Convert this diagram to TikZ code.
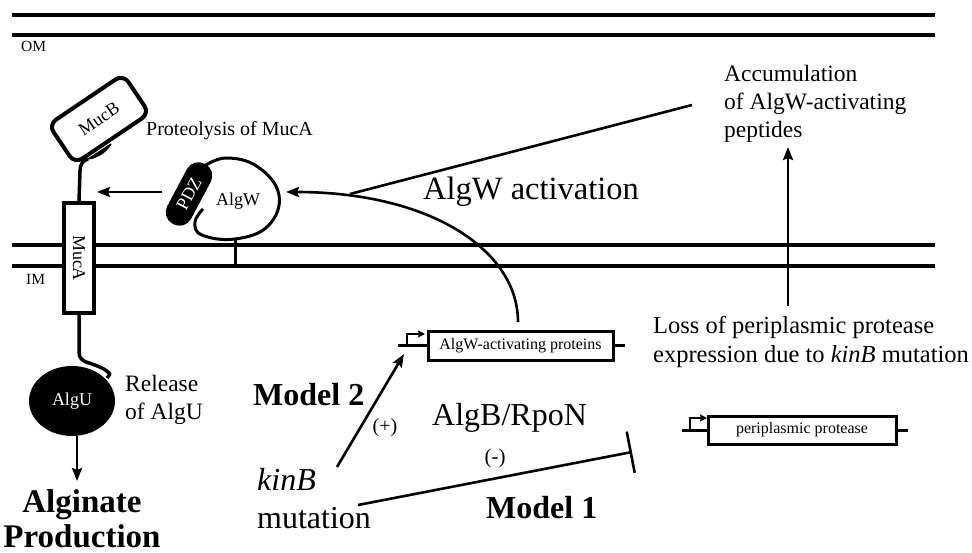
\documentclass[tikz,border=0pt]{standalone}
\usepackage{fontspec}
\setmainfont{Liberation Serif}
\usetikzlibrary{arrows.meta,shapes.geometric}
\newcommand\fsz[2]{\fontsize{#1pt}{#2pt}\selectfont}
\begin{document}
\begin{tikzpicture}[x=1pt,y=-1pt,
  mem/.style={line width=4.5pt},
  conn/.style={line width=2.6pt},
  arr/.style={conn,-{Stealth[length=13pt,width=10pt,inset=2pt]}},
  prom/.style={line width=2.4pt,-{Stealth[length=7pt,width=7pt,inset=1pt]}},
  genebox/.style={draw,line width=3pt,minimum height=28pt,inner sep=0pt,font=\fsz{16}{19}},
  lbl/.style={inner sep=0pt},
  prot/.style={font=\fsz{18}{22},inner sep=0pt}]
\useasboundingbox (0,0) rectangle (972,553);
% membranes
\draw[mem] (12,15) -- (935,15);
\draw[mem] (12,35) -- (935,35);
\draw[mem] (12,245) -- (935,245);
\draw[mem] (12,266) -- (935,266);
\node[lbl,anchor=base west,font=\fsz{15.5}{18}] (om) at (21,52) {OM};
\node[lbl,anchor=base west,font=\fsz{15.5}{18}] (im) at (26,285) {IM};
% MucA
\node[prot,draw,fill=white,line width=3.5pt,minimum width=110pt,minimum height=30pt,rotate=-90] (muca) at (79,258) {MucA};
% MucB
\node[prot,draw,line width=4pt,rounded corners=9pt,minimum width=90pt,minimum height=47pt,rotate=34] (mucb) at (99,119) {MucB};
\coordinate (lensA) at (88,159);
\coordinate (lensB) at (111,144);
\draw[line width=3.5pt] (muca.west) -- (80,171) .. controls (80,164) and (83,160.5) .. (lensA);
\filldraw[line width=1.2pt,line join=round] (lensA) .. controls (95,158.5) and (106,153) .. (lensB) -- cycle;
% AlgW
\draw[line width=3pt] plot[smooth,tension=0.7] coordinates {(203,167) (226,158) (258,167) (279,195) (268,226) (235,239) (202,235) (195,222) (203,209)};
\node[prot,fill=black,text=white,rounded corners=13pt,minimum width=68pt,minimum height=27pt,rotate=62] (pdz) at (189,194) {PDZ};
\node[prot] (algw) at (238,201) {AlgW};
\coordinate (stemtop) at (235,239);
\coordinate (stembot) at (235,266);
\draw[line width=3pt] (stemtop) -- (stembot);
\coordinate (algwR) at (286,192);
% proteolysis
\node[lbl,anchor=base west,font=\fsz{20}{24}] (proteo) at (146,136) {Proteolysis of MucA};
\coordinate (pstart) at (162,192);
\coordinate (pend) at (97,192);
\draw[arr] (pstart) -- (pend);
% AlgU
\node[ellipse,fill=black,text=white,font=\fsz{18}{22},inner sep=0pt,minimum width=86pt,minimum height=70pt] (algu) at (72,401) {AlgU};
\draw[line width=3.5pt,line join=round] (muca.east) -- (79,352) .. controls (79,358) and (82,361) .. (89,363) .. controls (98,366) and (106,369) .. (110,374) -- (107,378);
\node[lbl,anchor=north west,align=left,font=\fsz{23.5}{28}] (rel) at (125,375) {Release\\of AlgU};
\coordinate (alguS) at (77,436);
\coordinate (algP) at (77,481);
\draw[arr] (alguS) -- (algP);
\node[lbl,anchor=north,align=center,font=\bfseries\fsz{33}{35}] (alg) at (82,489) {Alginate\\Production};
% AlgW activation
\node[lbl,anchor=base west,font=\fsz{32.5}{38}] (act) at (423,200) {AlgW activation};
\node[lbl,anchor=north west,align=left,font=\fsz{23.5}{28}] (accum) at (724,65) {Accumulation\\of AlgW-activating\\peptides};
\coordinate (accL) at (692,105);
\coordinate (junc) at (350,194);
\draw[conn] (accL) -- (junc);
% gene 1
\node[genebox,minimum width=185pt] (g1) at (520.5,346) {AlgW-activating proteins};
\coordinate (g1l) at (398,346);
\coordinate (g1r) at (625,346);
\draw[line width=3pt] (g1l) -- (g1.west);
\draw[line width=3pt] (g1.east) -- (g1r);
\coordinate (pr1) at (407,346);
\draw[prom] (pr1) -- (407,334) -- (425,334);
\coordinate (curvestart) at (518,322);
\draw[arr] (curvestart) .. controls (518,250) and (430,192) .. (algwR);
% loss
\node[lbl,anchor=north west,align=left,font=\fsz{24.5}{29}] (loss) at (653,316) {Loss of periplasmic protease\\expression due to \textit{kinB} mutation};
\coordinate (lossT) at (788,306);
\coordinate (accB) at (788,147);
\draw[arr] (lossT) -- (accB);
% gene 2
\node[genebox,minimum width=188pt] (g2) at (802,430) {periplasmic protease};
\coordinate (g2l) at (682,430);
\coordinate (g2r) at (908,430);
\draw[line width=3pt] (g2l) -- (g2.west);
\draw[line width=3pt] (g2.east) -- (g2r);
\coordinate (pr2) at (690,430);
\draw[prom] (pr2) -- (690,418) -- (707,418);
% models
\node[lbl,anchor=base west,font=\bfseries\fsz{32}{36}] (m2) at (253,405) {Model 2};
\node[lbl,font=\fsz{20}{24}] (plus) at (385,428) {(+)};
\node[lbl,anchor=north west,align=left,font=\fsz{32}{38}] (kinb) at (257,468) {\textit{kinB}\\mutation};
\coordinate (k1) at (337,467);
\coordinate (k2) at (404,354);
\draw[arr] (k1) -- (k2);
\node[lbl,anchor=base west,font=\fsz{32}{38}] (rpon) at (432,425) {AlgB/RpoN};
\node[lbl,font=\fsz{21}{25}] (minus) at (495,458) {(-)};
\coordinate (i1) at (358,505);
\coordinate (i2) at (632,452);
\draw[conn,-{Bar[width=42pt,line width=2.6pt]}] (i1) -- (i2);
\node[lbl,anchor=base west,font=\bfseries\fsz{32}{36}] (m1) at (486,518) {Model 1};
\end{tikzpicture}
\end{document}
